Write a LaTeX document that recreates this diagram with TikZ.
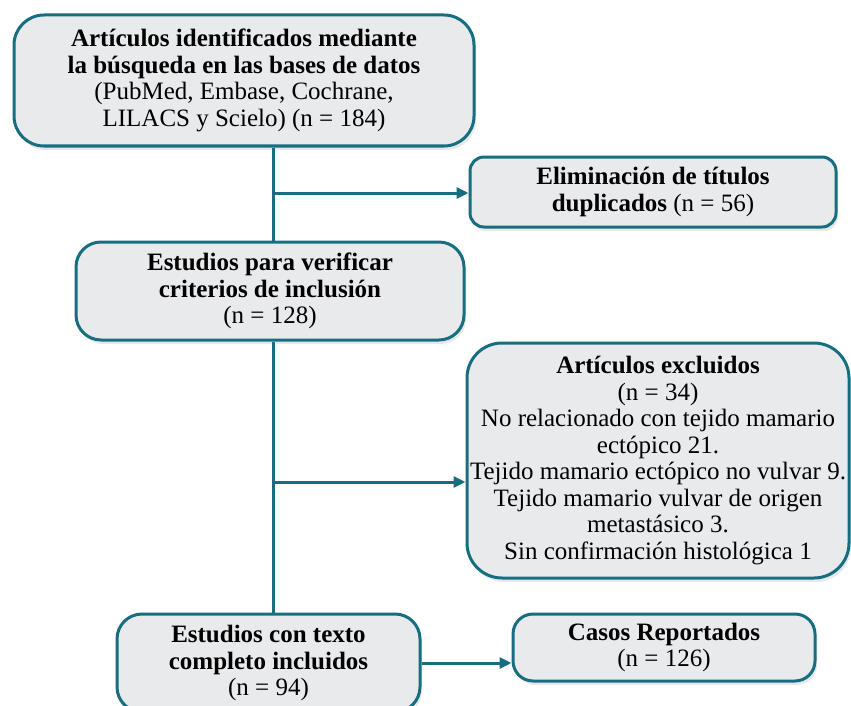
\documentclass[tikz,border=0pt]{standalone}
\usepackage{fontspec}
\setmainfont{Liberation Serif}
\usetikzlibrary{arrows.meta,shadows}
\definecolor{tealline}{RGB}{22,110,128}
\definecolor{boxfill}{RGB}{233,234,236}
\tikzset{
  box/.style={draw=tealline, fill=boxfill, line width=3pt, align=center,
    inner sep=1pt, font=\fontsize{25}{26.5}\selectfont,
    drop shadow={opacity=0.18, shadow xshift=2pt, shadow yshift=-4pt}},
  link/.style={draw=tealline, line width=3pt},
  arr/.style={link, -{Triangle[length=12pt,width=11pt]}}
}
\begin{document}
\begin{tikzpicture}[x=1pt,y=-1pt,thick]
            \useasboundingbox (0,0) rectangle (851,706);
            % Nodes with manual coordinates
            \node[box, minimum width=460pt, minimum height=131pt, rounded corners=30pt] (ident) at (244,80.5)
              {\textbf{Artículos identificados mediante}\\ \textbf{la búsqueda en las bases de datos}\\ (PubMed, Embase, Cochrane,\\ LILACS y Scielo) (n = 184)};
            \node[box, minimum width=366pt, minimum height=70pt, rounded corners=14pt] (dupl) at (653,192)
              {\textbf{Eliminación de títulos}\\ \textbf{duplicados} (n = 56)};
            \node[box, minimum width=388pt, minimum height=98pt, rounded corners=25pt] (verif) at (270,291)
              {\textbf{Estudios para verificar}\\ \textbf{criterios de inclusión}\\ (n = 128)};
            \node[box, minimum width=382pt, minimum height=235pt, rounded corners=35pt] (excl) at (658,460.5)
              {\textbf{Artículos excluidos}\\ (n = 34)\\ No relacionado con tejido mamario\\ ectópico 21.\\ Tejido mamario ectópico no vulvar 9.\\ Tejido mamario vulvar de origen\\ metastásico 3.\\ Sin confirmación histológica 1};
            \node[box, minimum width=303pt, minimum height=98pt, rounded corners=25pt] (texto) at (268.5,663)
              {\textbf{Estudios con texto}\\ \textbf{completo incluidos}\\ (n = 94)};
            \node[box, minimum width=302pt, minimum height=67pt, rounded corners=20pt] (casos) at (664,647.5)
              {\textbf{Casos Reportados}\\ (n = 126)};
            \coordinate (j1) at (273,193);
            \coordinate (j2) at (273,482);

            % Edges
            \draw[link] (ident.south -| j1) -- (verif.north -| j1);
            \draw[link] (verif.south -| j1) -- (texto.north -| j1);
            \draw[arr] (j1) -- (j1 -| dupl.west);
            \draw[arr] (j2) -- (j2 -| excl.west);
            \draw[arr] (texto.east) -- (texto.east -| casos.west);
        \end{tikzpicture}
\end{document}
